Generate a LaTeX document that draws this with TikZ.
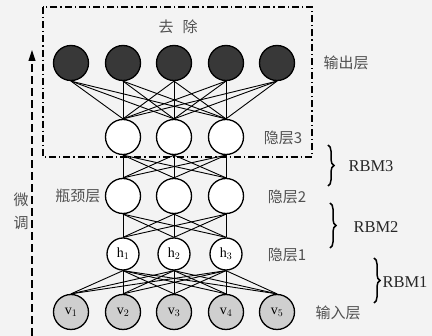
\documentclass[tikz,border=0pt]{standalone}
\usepackage{fontspec}
\setmainfont{Liberation Serif}
\newfontfamily\cjk{Noto Sans CJK SC}
\usetikzlibrary{arrows.meta,decorations.pathreplacing}
\definecolor{bgc}{HTML}{F3F3F3}
\definecolor{darkunit}{HTML}{383838}
\definecolor{lightunit}{HTML}{CFCFCF}
\definecolor{cjktext}{HTML}{505050}
\tikzset{
  unit/.style={circle,draw=black,line width=1.3pt,inner sep=0pt,minimum size=35pt},
  outunit/.style={unit,fill=darkunit},
  hidunit/.style={unit,fill=white},
  smallunit/.style={unit,fill=white,minimum size=32pt,font=\fontsize{14}{14}\selectfont},
  inunit/.style={unit,fill=lightunit,font=\fontsize{14}{14}\selectfont},
  link/.style={line width=0.9pt,black},
  zhlabel/.style={font=\cjk\fontsize{15}{15}\selectfont,text=cjktext,inner sep=0pt},
  rbmlabel/.style={font=\fontsize{16.5}{17}\selectfont,text=black!85,inner sep=0pt},
  rbmbrace/.style={decorate,decoration={brace,amplitude=6pt},line width=1.5pt},
}
\begin{document}
\begin{tikzpicture}[x=1pt,y=-1pt]
  \fill[bgc] (0,0) rectangle (432,336);
  \useasboundingbox (0,0) rectangle (432,336);

  % units of the five layers
  \foreach \i/\x in {1/71,2/123,3/174,4/226,5/277}{
    \node[outunit] (o\i) at (\x,63) {};
    \node[inunit] (v\i) at (\x,312) {v$_{\i}$};
  }
  \foreach \i/\x in {1/123,2/174,3/226}{
    \node[hidunit] (a\i) at (\x,137) {};
    \node[hidunit] (b\i) at (\x,196) {};
    \node[smallunit] (h\i) at (\x,254) {h$_{\i}$};
  }

  % full connections between neighbouring layers
  \foreach \i in {1,...,5}{
    \foreach \j in {1,2,3}{
      \draw[link] (o\i.south) -- (a\j.north);
      \draw[link] (h\j.south) -- (v\i.north);
    }
  }
  \foreach \i in {1,2,3}{
    \foreach \j in {1,2,3}{
      \draw[link] (a\i.south) -- (b\j.north);
      \draw[link] (b\i.south) -- (h\j.north);
    }
  }

  % removed part after pre-training
  \draw[line width=1.1pt,dash pattern=on 7pt off 3pt on 1.2pt off 3pt]
    (43,7) rectangle (312,157);
  \node[zhlabel] (rm) at (178,27) {去\hspace{0.6em}除};

  % fine-tuning direction
  \coordinate (ftbot) at (32,336);
  \coordinate (fttop) at (32,50);
  \draw[line width=1.1pt,dash pattern=on 8pt off 4pt,
        -{Triangle[length=11pt,width=7pt]}] (ftbot) -- (fttop);
  \node[zhlabel] (ft1) at (21,200) {微};
  \node[zhlabel] (ft2) at (21,223) {调};

  % layer names
  \node[zhlabel] (lo) at (346,63) {输出层};
  \node[zhlabel] (l3) at (283,138) {隐层3};
  \node[zhlabel] (lb) at (78,196) {瓶颈层};
  \node[zhlabel] (l2) at (287,197) {隐层2};
  \node[zhlabel] (l1) at (287,255) {隐层1};
  \node[zhlabel] (li) at (338,313) {输入层};

  % stacked RBMs
  \coordinate (r3t) at (328,145); \coordinate (r3b) at (328,186);
  \coordinate (r2t) at (330,203); \coordinate (r2b) at (330,248);
  \coordinate (r1t) at (374,258); \coordinate (r1b) at (374,303);
  \draw[rbmbrace] (r3t) -- (r3b);
  \draw[rbmbrace] (r2t) -- (r2b);
  \draw[rbmbrace] (r1t) -- (r1b);
  \node[rbmlabel] (m3) at (371,166) {RBM3};
  \node[rbmlabel] (m2) at (376,227) {RBM2};
  \node[rbmlabel] (m1) at (405,282) {RBM1};
\end{tikzpicture}
\end{document}
